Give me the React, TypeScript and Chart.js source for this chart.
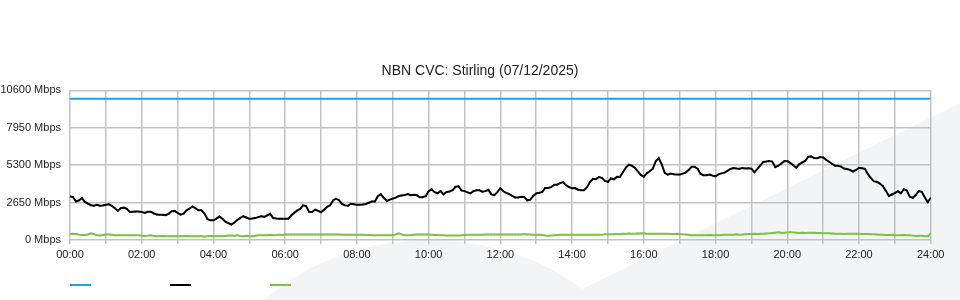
import React, { useEffect, useRef } from 'react';
import { Chart, registerables } from 'chart.js';

Chart.register(...registerables);

const TITLE = 'NBN CVC: Stirling (07/12/2025)';
const Y_MAX = 10600;
const Y_STEP = 2650;
const STEP_MINUTES = 5;
const CAPACITY_MBPS = 10000;

// Download (Mbps), 5‑minute samples, one row per hour
const downloadMbps = [
  3090, 3040, 2730, 2800, 2970, 2700, 2570, 2460, 2430, 2490, 2430, 2450,
  2500, 2530, 2420, 2250, 2070, 2250, 2290, 2200, 1980, 2000, 2010, 2010,
  1990, 1920, 2000, 2000, 1880, 1800, 1790, 1790, 1760, 1850, 2030, 2060,
  1920, 1800, 1870, 2100, 2230, 2370, 2250, 2100, 2100, 1870, 1480, 1390,
  1390, 1520, 1660, 1500, 1300, 1200, 1090, 1240, 1420, 1570, 1680, 1590,
  1500, 1520, 1550, 1620, 1680, 1640, 1740, 1850, 1560, 1520, 1500, 1500,
  1500, 1500, 1730, 1920, 2090, 2200, 2450, 2400, 1990, 1980, 2150, 2070,
  1960, 2150, 2340, 2450, 2800, 2930, 2820, 2550, 2450, 2420, 2570, 2530,
  2500, 2500, 2510, 2550, 2640, 2730, 2730, 3100, 3250, 2990, 2760, 2860,
  2930, 3000, 3110, 3150, 3180, 3260, 3170, 3200, 3180, 3030, 3030, 3110,
  3450, 3590, 3390, 3310, 3470, 3230, 3400, 3430, 3530, 3770, 3800, 3510,
  3460, 3370, 3300, 3450, 3520, 3520, 3420, 3460, 3550, 3230, 3180, 3390,
  3670, 3450, 3340, 3240, 3120, 3010, 3010, 3060, 3050, 2800, 2860, 3120,
  3300, 3340, 3390, 3680, 3680, 3740, 3910, 3920, 4030, 4100, 3870, 3740,
  3670, 3680, 3560, 3520, 3520, 3740, 4100, 4330, 4310, 4460, 4400, 4180,
  4110, 4360, 4300, 4470, 4460, 4800, 5130, 5330, 5260, 5110, 4860, 4600,
  4480, 4720, 4870, 5050, 5580, 5800, 5350, 4750, 4630, 4700, 4660, 4630,
  4630, 4700, 4770, 4950, 5180, 5180, 5050, 4670, 4590, 4580, 4630, 4560,
  4510, 4650, 4720, 4770, 4900, 5030, 5090, 5060, 5050, 5100, 5070, 5080,
  5050, 4800, 5020, 5280, 5530, 5560, 5600, 5550, 5160, 5260, 5420, 5580,
  5590, 5460, 5290, 5120, 5360, 5490, 5600, 5880, 5920, 5800, 5790, 5880,
  5840, 5680, 5540, 5400, 5250, 5250, 5200, 5060, 5030, 4970, 4850, 4960,
  5110, 5080, 5030, 4660, 4380, 4150, 4120, 4000, 3820, 3480, 3120, 3220,
  3320, 3450, 3300, 3600, 3500, 3060, 2990, 3180, 3460, 3410, 3030, 2680,
  2970,
];

// Upload (Mbps), 5‑minute samples, one row per hour
const uploadMbps = [
  420, 450, 430, 380, 360, 350, 390, 470, 420, 330, 320, 360,
  390, 390, 370, 340, 330, 330, 330, 330, 330, 330, 330, 330,
  300, 290, 310, 340, 300, 270, 270, 290, 270, 260, 260, 260,
  260, 260, 270, 290, 260, 260, 260, 270, 260, 250, 260, 290,
  270, 260, 260, 260, 290, 320, 310, 300, 330, 280, 260, 300,
  270, 260, 300, 330, 330, 330, 340, 370, 340, 350, 380, 360,
  390, 390, 390, 390, 390, 390, 390, 390, 390, 390, 390, 390,
  390, 390, 390, 390, 390, 390, 390, 380, 370, 380, 380, 380,
  380, 370, 370, 360, 360, 340, 330, 330, 330, 330, 330, 340,
  340, 400, 470, 400, 340, 330, 350, 380, 390, 390, 390, 390,
  390, 380, 360, 360, 330, 330, 310, 310, 310, 310, 310, 330,
  360, 370, 370, 370, 370, 370, 380, 390, 390, 390, 390, 390,
  390, 390, 390, 390, 390, 390, 390, 390, 420, 390, 390, 380,
  380, 370, 350, 320, 300, 310, 340, 360, 370, 370, 370, 370,
  370, 370, 370, 370, 370, 370, 380, 380, 380, 380, 380, 400,
  400, 400, 410, 420, 430, 440, 440, 460, 440, 450, 460, 460,
  470, 450, 440, 440, 440, 440, 440, 440, 440, 430, 430, 440,
  420, 400, 390, 370, 340, 340, 340, 340, 340, 340, 350, 340,
  340, 340, 360, 380, 380, 380, 380, 400, 380, 390, 410, 420,
  430, 440, 430, 440, 440, 460, 470, 490, 520, 540, 510, 520,
  540, 550, 540, 520, 490, 510, 500, 520, 520, 510, 490, 500,
  480, 470, 480, 460, 440, 440, 450, 430, 440, 440, 440, 440,
  440, 430, 430, 420, 410, 400, 390, 380, 380, 360, 350, 370,
  340, 330, 340, 350, 330, 330, 310, 290, 300, 300, 260, 270,
  460,
];

// Minutes since midnight for each sample (categories)
const sampleMinutes = downloadMbps.map((_, i) => i * STEP_MINUTES);

const COLORS = {
  capacity: '#1fa3e0',
  download: '#000000',
  upload: '#7dc242',
  grid: '#c2c2c2',
  text: '#222222',
  watermark: '#f3f4f6',
};

const FONT = 'Arial, "Liberation Sans", sans-serif';

const fmtHour = (m: number) => String(Math.round(m / 60)).padStart(2, '0') + ':00';

const watermarkPlugin = {
  id: 'watermark',
  beforeDraw(chart: any) {
    const { ctx, width, height } = chart;
    ctx.save();
    ctx.fillStyle = COLORS.watermark;
    ctx.beginPath();
    ctx.moveTo(560, height);
    ctx.lineTo(width, 103);
    ctx.lineTo(width, height);
    ctx.closePath();
    ctx.fill();
    ctx.beginPath();
    ctx.ellipse(430, 445, 235, 205, 0, 0, Math.PI * 2);
    ctx.fill();
    ctx.restore();
  },
};

const lineLegendPlugin = {
  id: 'lineLegend',
  afterDraw(chart: any) {
    const { ctx } = chart;
    const left = chart.chartArea.left;
    ctx.save();
    chart.data.datasets.forEach((ds: any, i: number) => {
      ctx.strokeStyle = ds.borderColor;
      ctx.lineWidth = 2;
      ctx.beginPath();
      ctx.moveTo(left + i * 100, 285);
      ctx.lineTo(left + i * 100 + 21, 285);
      ctx.stroke();
    });
    ctx.restore();
  },
};

export default function App() {
  const canvasRef = useRef<HTMLCanvasElement | null>(null);

  useEffect(() => {
    if (!canvasRef.current) return;
    const chart = new Chart(canvasRef.current, {
      type: 'line',
      data: {
        labels: sampleMinutes,
        datasets: [
          {
            label: 'Capacity',
            data: [
              { x: sampleMinutes[0], y: CAPACITY_MBPS },
              { x: sampleMinutes[sampleMinutes.length - 1], y: CAPACITY_MBPS },
            ] as any,
            borderColor: COLORS.capacity,
            backgroundColor: COLORS.capacity,
            borderWidth: 2,
            pointRadius: 0,
          },
          {
            label: 'Download',
            data: downloadMbps,
            borderColor: COLORS.download,
            backgroundColor: COLORS.download,
            borderWidth: 2,
            pointRadius: 1,
            pointBorderWidth: 0,
            pointStyle: 'rect',
          },
          {
            label: 'Upload',
            data: uploadMbps,
            borderColor: COLORS.upload,
            backgroundColor: COLORS.upload,
            borderWidth: 2,
            pointRadius: 1,
            pointBorderWidth: 0,
            pointStyle: 'rect',
          },
        ],
      },
      options: {
        animation: false,
        responsive: false,
        maintainAspectRatio: false,
        layout: { padding: { left: 0, right: 0, top: 0, bottom: 20 } },
        plugins: {
          legend: { display: false },
          tooltip: { enabled: false },
          title: {
            display: true,
            text: TITLE,
            color: COLORS.text,
            font: { family: FONT, size: 14, weight: 'normal' },
            padding: { top: 62.5, bottom: 11 },
          },
        },
        scales: {
          x: {
            type: 'linear',
            min: 0,
            max: 1440,
            afterFit: (s: any) => { s.height = 40; },
            border: { display: false },
            grid: { color: COLORS.grid, lineWidth: 1.5, tickLength: 4 },
            ticks: {
              stepSize: 60,
              autoSkip: false,
              maxRotation: 0,
              padding: 4,
              color: COLORS.text,
              font: { family: FONT, size: 11 },
              callback: (v: any) => (Number(v) % 120 === 0 ? fmtHour(Number(v)) : ''),
            },
          },
          y: {
            min: 0,
            max: Y_MAX,
            afterFit: (s: any) => { s.width = 70; },
            border: { display: false },
            grid: { color: COLORS.grid, lineWidth: 1.5, drawTicks: false },
            ticks: {
              stepSize: Y_STEP,
              padding: 9,
              color: COLORS.text,
              font: { family: FONT, size: 11 },
              callback: (v: any) => `${v} Mbps`,
            },
          },
          ySpacer: {
            position: 'right',
            min: 0,
            max: Y_MAX,
            afterFit: (s: any) => { s.width = 29.3; },
            border: { display: false },
            grid: { display: false, drawTicks: false },
            ticks: { display: false },
          },
        },
      },
      plugins: [watermarkPlugin, lineLegendPlugin],
    });
    return () => chart.destroy();
  }, []);

  return (
    <div style={{ position: 'absolute', left: 0, top: 0, width: 960, height: 300 }}>
      <canvas ref={canvasRef} width={960} height={300} style={{ width: 960, height: 300, display: 'block' }} />
    </div>
  );
}
